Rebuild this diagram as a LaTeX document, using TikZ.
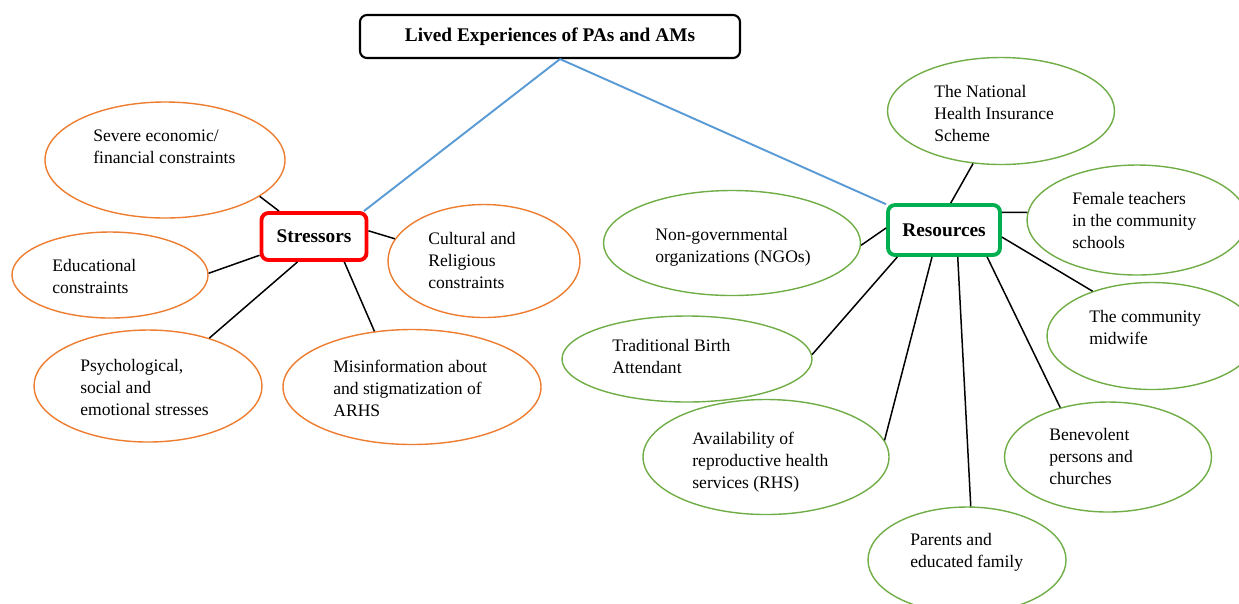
\documentclass[tikz,border=0pt]{standalone}
\usepackage{fontspec}
\setmainfont{Liberation Serif}
\usetikzlibrary{shapes.geometric}
\definecolor{orng}{HTML}{ED7D31}
\definecolor{grn}{HTML}{70AD47}
\definecolor{lnblue}{HTML}{5B9BD5}
\definecolor{resgrn}{HTML}{00B050}
\begin{document}
\begin{tikzpicture}[x=0.02cm,y=-0.02cm,
    sz/.style 2 args={minimum width=#1*0.02cm,minimum height=#2*0.02cm},
    box/.style={draw,rounded corners=4pt,inner sep=0pt,font=\fontsize{11}{13}\selectfont\bfseries},
    ell/.style={ellipse,draw,line width=0.8pt,inner sep=0pt},
    txt/.style={align=left,anchor=base west,inner sep=0pt,font=\fontsize{10}{12.5}\selectfont},
    link/.style={line width=0.85pt}]
    \useasboundingbox (0,0) rectangle (1239,603);
    \clip (0,0) rectangle (1239,603);
    \node[box,sz={380}{43},line width=1.2pt] (top) at (550,36.5) {Lived Experiences of PAs and AMs};
    \node[box,sz={105}{47},line width=2.2pt,draw=red] (stress) at (314,236.5) {Stressors};
    \node[box,sz={112}{50},line width=2.2pt,draw=resgrn] (res) at (944,230) {Resources};
    \draw[lnblue,line width=1.1pt](top.-66)--(stress.27);
    \draw[lnblue,line width=1.1pt](top.-66)--(res.156);
    \node[ell,draw=orng,sz={240}{116}] (econ) at (165,160) {};
    \node[ell,draw=orng,sz={196}{86}] (educ) at (110,275) {};
    \node[ell,draw=orng,sz={228}{112}] (psych) at (148,386) {};
    \node[ell,draw=orng,sz={258}{115}] (misinfo) at (412,387) {};
    \node[ell,draw=orng,sz={192}{113}] (cult) at (484,261) {};
    \node[txt] (econ-t) at (93,163) {Severe economic/\\financial constraints};
    \node[txt] (educ-t) at (52,293) {Educational\\constraints};
    \node[txt] (psych-t) at (80,415) {Psychological,\\social and\\emotional stresses};
    \node[txt] (misinfo-t) at (333,416) {Misinformation about\\and stigmatization of\\ARHS};
    \node[txt] (cult-t) at (428,288) {Cultural and\\Religious\\constraints};
    \draw[link](stress.144)--(econ.-21);
    \draw[link](stress.199)--(educ.1);
    \draw[link](stress.237)--(psych.38);
    \draw[link](stress.-40)--(misinfo.124);
    \draw[link](stress.6)--(cult.166);
    \node[ell,draw=grn,sz={227}{107}] (nhis) at (1001,111) {};
    \node[ell,draw=grn,sz={220}{110}] (female) at (1137,220) {};
    \node[ell,draw=grn,sz={257}{105}] (ngo) at (732,243) {};
    \node[ell,draw=grn,sz={210}{107}] (midwife) at (1152,336) {};
    \node[ell,draw=grn,sz={250}{86}] (tba) at (687,359) {};
    \node[ell,draw=grn,sz={246}{115}] (rhs) at (766,457) {};
    \node[ell,draw=grn,sz={207}{110}] (benev) at (1108,457) {};
    \node[ell,draw=grn,sz={198}{106}] (parents) at (967,560) {};
    \node[txt] (nhis-t) at (934,141) {The National\\Health Insurance\\Scheme};
    \node[txt] (female-t) at (1072,248) {Female teachers\\in the community\\schools};
    \node[txt] (ngo-t) at (655,262) {Non-governmental\\organizations (NGOs)};
    \node[txt] (midwife-t) at (1089,344) {The community\\midwife};
    \node[txt] (tba-t) at (612,373) {Traditional Birth\\Attendant};
    \node[txt] (rhs-t) at (692,488) {Availability of\\reproductive health\\services (RHS)};
    \node[txt] (benev-t) at (1049,484) {Benevolent\\persons and\\churches};
    \node[txt] (parents-t) at (910,567) {Parents and\\educated family};
    \draw[link](res.76)--(nhis.242);
    \draw[link](res.17)--(female.176);
    \draw[link](res.178)--(ngo.-1);
    \draw[link](res.-7)--(midwife.143);
    \draw[link](res.210)--(tba.2);
    \draw[link](res.246)--(rhs.8);
    \draw[link](res.297)--(parents.86);
    \draw[link](res.328)--(benev.134);
\end{tikzpicture}
\end{document}
